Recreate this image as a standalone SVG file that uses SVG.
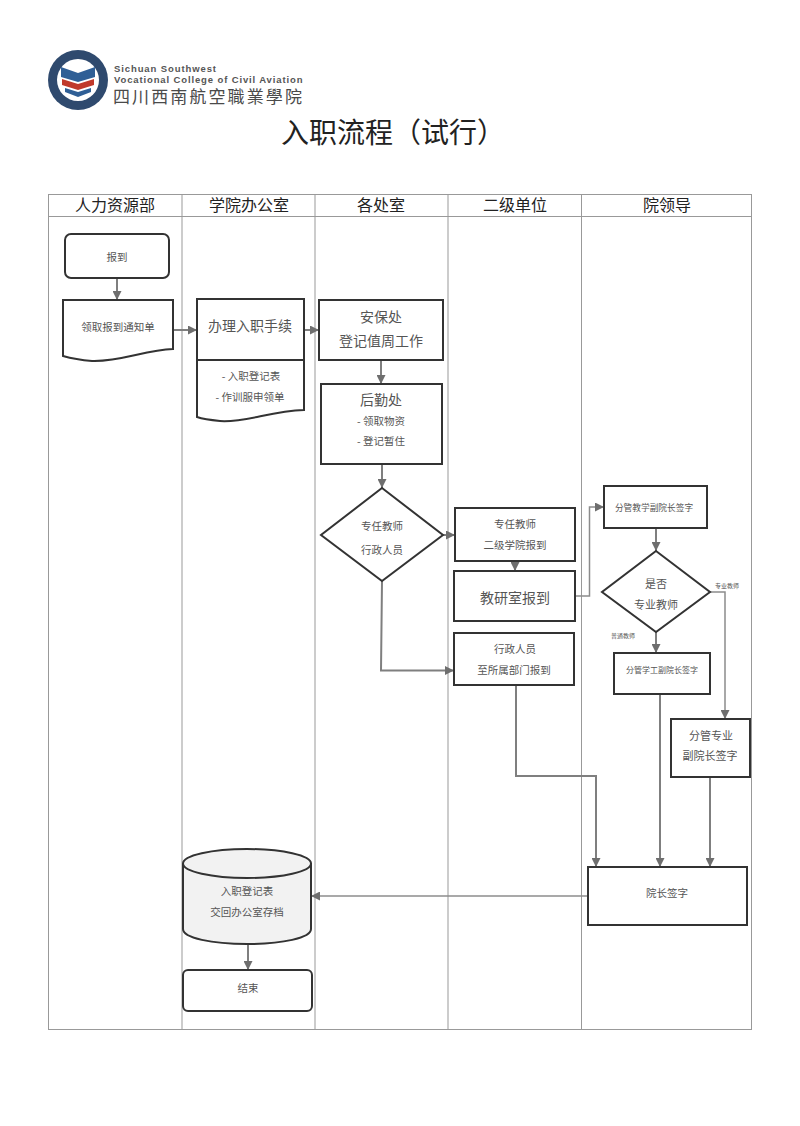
<svg xmlns="http://www.w3.org/2000/svg" width="800" height="1126" viewBox="0 0 800 1126">
<style>
text{font-family:"Noto Sans CJK SC","Noto Sans CJK TC","Liberation Sans",sans-serif;text-anchor:middle;fill:#555}
.h{font-family:"Noto Sans CJK SC",serif;font-size:16px;fill:#222}
.s{font-size:10.500px}.m{font-size:14px}.t{font-size:6px}
.b{fill:#fff;stroke:#333;stroke-width:2}
.grid{fill:none;stroke:#999;stroke-width:1}
.c{fill:none;stroke:#7f7f7f;stroke-width:2}
.c2{fill:none;stroke:#8c8c8c;stroke-width:1.5}
</style>
<defs>
<marker id="a" viewBox="0 0 10 10" refX="10" refY="5" markerWidth="9" markerHeight="9" markerUnits="userSpaceOnUse" orient="auto"><path d="M0 0L10 5L0 10z" fill="#6e6e6e"/></marker>
</defs>
<rect width="800" height="1126" fill="#fff"/>
<g id="logo">
<circle cx="78" cy="80" r="30" fill="#2f4a6e"/>
<circle cx="78" cy="80" r="21" fill="#fff"/>
<path d="M61 67L78 73L95 67V77L78 82L61 77z" fill="#2f5f96"/>
<path d="M62 79L78 84L94 79V85L78 90L62 85z" fill="#c0392b"/>
<path d="M65 88L78 92L91 88V92L78 97L65 92z" fill="#2f5f96"/>
<text x="114" y="71.500" style="font-family:'Liberation Sans';font-size:9.500px;font-weight:bold;letter-spacing:.9px;text-anchor:start;fill:#555">Sichuan Southwest</text>
<text x="114" y="83" style="font-family:'Liberation Sans';font-size:9.500px;font-weight:bold;letter-spacing:.87px;text-anchor:start;fill:#555">Vocational College of Civil Aviation</text>
<text x="113" y="103" style="font-size:17px;letter-spacing:2.100px;text-anchor:start;fill:#4a4a4a;font-family:'Noto Sans CJK TC',sans-serif">四川西南航空職業學院</text>
</g>
<text x="393" y="143" style="font-size:28px;fill:#222;font-family:'Noto Sans CJK SC',serif">入职流程（试行）</text>
<g id="lanes">
<rect class="grid" x="48.500" y="194.500" width="703" height="835"/>
<path class="grid" d="M48 216.500H751M182 194V1029M315 194V1029M448 194V1029M581.500 194V1029"/>
<text class="h" x="115" y="211">人力资源部</text>
<text class="h" x="249" y="211">学院办公室</text>
<text class="h" x="381" y="211">各处室</text>
<text class="h" x="515" y="211">二级单位</text>
<text class="h" x="667" y="211">院领导</text>
</g>
<g id="connectors">
<path class="c" marker-end="url(#a)" d="M117 278V300"/>
<path class="c" marker-end="url(#a)" d="M173 330H197"/>
<path class="c" marker-end="url(#a)" d="M304 330H319"/>
<path class="c" marker-end="url(#a)" d="M381 360V384"/>
<path class="c" marker-end="url(#a)" d="M382 464V488"/>
<path class="c" marker-end="url(#a)" d="M443 535H455"/>
<path class="c" marker-end="url(#a)" d="M515 561V571"/>
<path class="c" marker-end="url(#a)" d="M382 581L381 670.500H454"/>
<path class="c2" marker-end="url(#a)" d="M575 596H589.500V507H604"/>
<path class="c" marker-end="url(#a)" d="M656 528V551"/>
<path class="c" marker-end="url(#a)" d="M656 632V653"/>
<path class="c2" marker-end="url(#a)" d="M710 592H725V719"/>
<path class="c" marker-end="url(#a)" d="M660 694V867"/>
<path class="c" marker-end="url(#a)" d="M710 777V867"/>
<path class="c" marker-end="url(#a)" d="M516 685V776H596V867"/>
<path class="c2" marker-end="url(#a)" d="M588 896H311"/>
<path class="c" marker-end="url(#a)" d="M248 944V970"/>
</g>
<g id="n-start"><rect class="b" x="65" y="234" width="104" height="44" rx="6"/><text class="s" x="117" y="261">报到</text></g>
<g id="n-notice"><path class="b" d="M63 300H173V349C145 350 120 362 92 361C80 360 70 358 63 356z"/><text class="s" x="118" y="331">领取报到通知单</text></g>
<g id="n-procedure"><path class="b" d="M197 360H304V410C270 411 245 423 220 421C210 420 203 419 197 417z"/><rect class="b" x="197" y="299" width="107" height="61"/><text class="m" x="250" y="331">办理入职手续</text><text class="s" x="251" y="380">- 入职登记表</text><text class="s" x="250" y="401">- 作训服申领单</text></g>
<g id="n-security"><rect class="b" x="319" y="300" width="124" height="60"/><text class="m" x="381" y="322">安保处</text><text class="m" x="381" y="346">登记值周工作</text></g>
<g id="n-logistics"><rect class="b" x="321" y="384" width="121" height="80"/><text class="m" x="381" y="405">后勤处</text><text class="s" x="381" y="425">- 领取物资</text><text class="s" x="381" y="445">- 登记暂住</text></g>
<g id="n-d1"><path class="b" d="M382 488L443 535L382 581L321 535z"/><text class="s" x="382" y="530">专任教师</text><text class="s" x="382" y="554">行政人员</text></g>
<g id="n-teacher"><rect class="b" x="455" y="508" width="120" height="53"/><text class="s" x="515" y="528">专任教师</text><text class="s" x="515" y="549">二级学院报到</text></g>
<g id="n-office"><rect class="b" x="454" y="571" width="121" height="50"/><text class="m" x="515" y="603">教研室报到</text></g>
<g id="n-admin"><rect class="b" x="454" y="633" width="120" height="52"/><text class="s" x="515" y="653">行政人员</text><text class="s" x="514" y="674">至所属部门报到</text></g>
<g id="n-vp1"><rect class="b" x="604" y="486" width="103" height="42"/><text x="654" y="511" style="font-size:8.700px">分管教学副院长签字</text></g>
<g id="n-d2"><path class="b" d="M656 551L710 592L656 632L602 592z"/><text x="656" y="588" style="font-size:11px">是否</text><text x="656" y="609" style="font-size:11px">专业教师</text></g>
<g id="n-vp2"><rect class="b" x="614" y="653" width="96" height="41"/><text x="662" y="673" style="font-size:8px">分管学工副院长签字</text></g>
<g id="n-vp3"><rect class="b" x="671" y="719" width="79" height="58"/><text x="711" y="740" style="font-size:11px">分管专业</text><text x="710" y="760" style="font-size:11px">副院长签字</text></g>
<g id="n-president"><rect class="b" x="588" y="867" width="159" height="58"/><text class="s" x="667" y="897">院长签字</text></g>
<g id="n-archive"><path class="b" style="fill:#f2f2f2" d="M183 864V929C183 938 212 944 247 944S311 938 311 929V864z"/><ellipse class="b" style="fill:#f2f2f2" cx="247" cy="863.500" rx="64" ry="14.500"/><text class="s" x="247" y="895">入职登记表</text><text class="s" x="247" y="916">交回办公室存档</text></g>
<g id="n-end"><rect class="b" x="183" y="970" width="129" height="41" rx="5"/><text class="s" x="248" y="992">结束</text></g>
<g id="edge-labels"><text class="t" x="727" y="588">专业教师</text><text class="t" x="623" y="638">普通教师</text></g>
</svg>
